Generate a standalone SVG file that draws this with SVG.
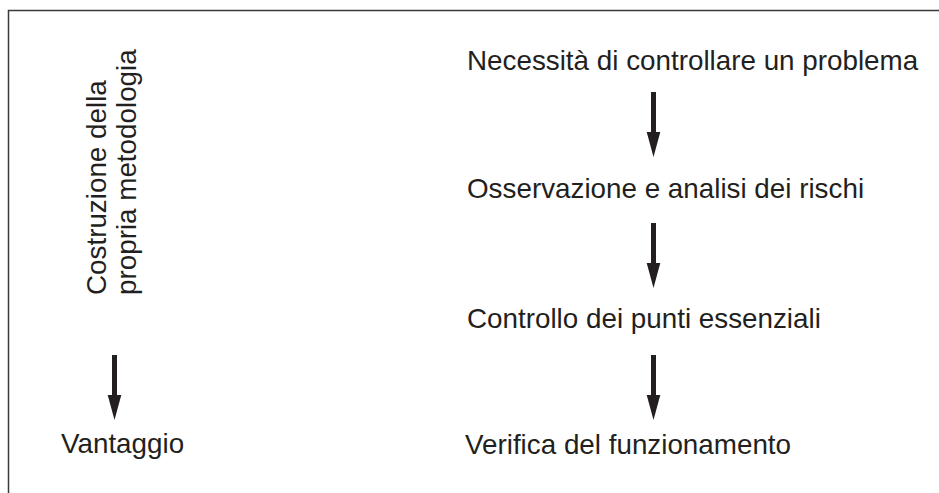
<svg xmlns="http://www.w3.org/2000/svg" xmlns:xlink="http://www.w3.org/1999/xlink" width="939" height="493" viewBox="0 0 939 493">
  <style>
    .t { font-family: "Liberation Sans", Arial, sans-serif; font-size: 27.8px; fill: #231f20; }
    .frame { fill: none; stroke: #3a3a3a; stroke-width: 1.5; }
    .arrow { fill: #231f20; }
  </style>
  <defs>
    <path id="arr" d="M -2.5 0 L 2.5 0 L 2.5 40 L 6.8 40 L 0 65 L -6.8 40 L -2.5 40 Z"/>
  </defs>
  <rect width="939" height="493" fill="#ffffff"/>
  <path class="frame" d="M 8.5 493 L 8.5 10.5 L 939 10.5"/>

  <g id="node-costruzione">
    <text class="t" transform="translate(106,295) rotate(-90)">Costruzione della</text>
    <text class="t" transform="translate(136,295) rotate(-90)">propria metodologia</text>
  </g>
  <g id="node-vantaggio">
    <text class="t" x="61" y="453">Vantaggio</text>
  </g>
  <g id="node-necessita">
    <text class="t" x="467" y="70">Necessità di controllare un problema</text>
  </g>
  <g id="node-osservazione">
    <text class="t" x="467" y="198">Osservazione e analisi dei rischi</text>
  </g>
  <g id="node-controllo">
    <text class="t" x="467" y="328">Controllo dei punti essenziali</text>
  </g>
  <g id="node-verifica">
    <text class="t" x="465" y="454">Verifica del funzionamento</text>
  </g>

  <g id="connectors" class="arrow">
    <use xlink:href="#arr" transform="translate(114.5,355)"/>
    <use xlink:href="#arr" transform="translate(653.5,92)"/>
    <use xlink:href="#arr" transform="translate(653.5,223)"/>
    <use xlink:href="#arr" transform="translate(653.5,355)"/>
  </g>
</svg>
